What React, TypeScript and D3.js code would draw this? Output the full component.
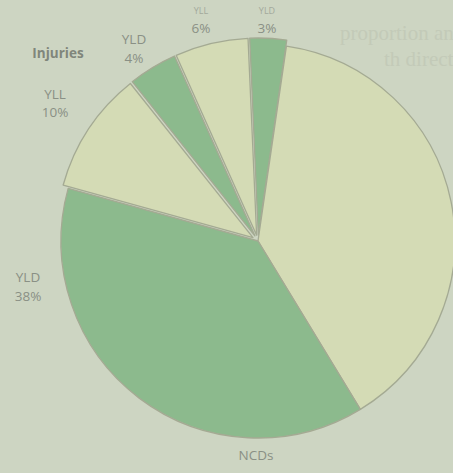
import React from 'react';
import * as d3 from 'd3';

// slices clockwise, starting at the small YLD slice at 12 o'clock
const groups = ['Other', 'NCDs', 'NCDs', 'Injuries', 'Injuries', 'Other'];
const kinds = ['YLD', 'YLL', 'YLD', 'YLL', 'YLD', 'YLL'];
const shares = [3, 39, 38, 10, 4, 6];
const exploded = [true, false, false, true, true, true];

const W = 453;
const H = 473;
const cx = 258;
const cy = 241;
const R = 197;
const START = (-2.5 * Math.PI) / 180;

const fillFor: Record<string, string> = { YLD: '#8cba8d', YLL: '#d4dbb5' };
const textCol = '#8a9085';

export default function App() {
  const pie = d3
    .pie<number>()
    .sort(null)
    .value((d) => d)
    .startAngle(START)
    .endAngle(START + Math.PI * 2);
  const arcs = pie(shares);
  const arc = d3.arc<d3.PieArcDatum<number>>().innerRadius(0).outerRadius(R);

  const fontFam = "'Open Sans', 'DejaVu Sans', sans-serif";

  return (
    <svg
      width={W}
      height={H}
      style={{ position: 'fixed', left: 0, top: 0, background: '#cdd5c2' }}
    >
      <rect width={W} height={H} fill="#cdd5c2" />
      {/* bleed-through text from the facing page */}
      <g fill="#c3cab8" fontFamily="'Liberation Serif', serif" fontSize={21}>
        <text x={340} y={40}>proportion an</text>
        <text x={384} y={66}>th direct</text>
      </g>

      {arcs.map((a, i) => {
        const mid = (a.startAngle + a.endAngle) / 2;
        const off = exploded[i] ? 6 : 0;
        const dx = Math.sin(mid) * off;
        const dy = -Math.cos(mid) * off;
        return (
          <path
            key={i}
            d={arc(a) ?? ''}
            transform={`translate(${cx + dx},${cy + dy})`}
            fill={fillFor[kinds[i]]}
            stroke="#a4aa93"
            strokeWidth={1.3}
            strokeLinejoin="round"
          />
        );
      })}

      <g fill={textCol} fontFamily={fontFam} fontSize={13.5} textAnchor="middle">
        <text x={58} y={58} fontWeight="bold" fontSize={13.5} fill="#80867b">Injuries</text>

        <text x={134} y={44}>{kinds[4]}</text>
        <text x={134} y={63}>{shares[4]}%</text>

        <text x={55} y={99}>{kinds[3]}</text>
        <text x={55} y={117}>{shares[3]}%</text>

        <text x={201} y={14} fontSize={9} fill="#a3a99c">{kinds[5]}</text>
        <text x={201} y={33}>{shares[5]}%</text>

        <text x={267} y={14} fontSize={9} fill="#a3a99c">{kinds[0]}</text>
        <text x={267} y={33}>{shares[0]}%</text>

        <text x={28} y={282}>{kinds[2]}</text>
        <text x={28} y={301}>{shares[2]}%</text>

        <text x={256} y={460}>{groups[1]}</text>
      </g>
    </svg>
  );
}
